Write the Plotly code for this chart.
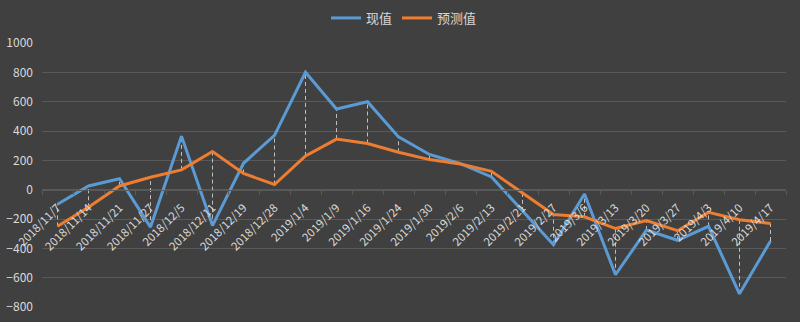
import plotly.graph_objects as go

# Weekly observation dates
dates = [
    "2018/11/7", "2018/11/14", "2018/11/21", "2018/11/27", "2018/12/5", "2018/12/11",
    "2018/12/19", "2018/12/28", "2019/1/4", "2019/1/9", "2019/1/16", "2019/1/24",
    "2019/1/30", "2019/2/6", "2019/2/13", "2019/2/21", "2019/2/27", "2019/3/6",
    "2019/3/13", "2019/3/20", "2019/3/27", "2019/4/3", "2019/4/10", "2019/4/17",
]

# Actual values (现值)
actual = [
    -100, 25, 75, -255, 365, -245,
    180, 370, 800, 550, 600, 360,
    240, 177, 87, -145, -375, -30,
    -580, -275, -345, -250, -710, -350,
]

# Forecast values (预测值)
forecast = [
    -250, -120, 25, 85, 135, 260,
    110, 35, 230, 345, 315, 255,
    205, 175, 125, -20, -170, -185,
    -265, -210, -280, -155, -205, -230,
]

y_ticks = list(range(-800, 1001, 200))

BG = "#404040"
GRID = "#595959"
TEXT = "#d9d9d9"
BLUE = "#5b9bd5"
ORANGE = "#ed7d31"

# High-low connector segments between the two series at each date
hl_x, hl_y = [], []
for d, a, f in zip(dates, actual, forecast):
    hl_x += [d, d, None]
    hl_y += [min(a, f), max(a, f), None]

fig = go.Figure()
fig.add_trace(go.Scatter(
    x=hl_x, y=hl_y, mode="lines",
    line=dict(color="#bfbfbf", width=1, dash="4px,3px"),
    hoverinfo="skip", showlegend=False,
))
fig.add_trace(go.Scatter(
    x=dates, y=actual, mode="lines", name="现值",
    line=dict(color=BLUE, width=3),
))
fig.add_trace(go.Scatter(
    x=dates, y=forecast, mode="lines", name="预测值",
    line=dict(color=ORANGE, width=3),
))

y_min, y_max = -800, 1000
zero_pos = (0 - y_min) / (y_max - y_min)

fig.update_layout(
    width=800, height=322,
    margin=dict(l=42, r=14, t=43, b=15, autoexpand=False),
    paper_bgcolor=BG, plot_bgcolor=BG,
    font=dict(family="Noto Sans CJK SC, sans-serif", color=TEXT, size=12),
    legend=dict(
        orientation="h", xref="container", yref="container",
        x=0.505, xanchor="center", y=1 - 18 / 322, yanchor="middle",
        font=dict(size=13, color=TEXT), bgcolor="rgba(0,0,0,0)",
        itemwidth=30, tracegroupgap=0,
    ),
    xaxis=dict(
        type="category", categoryorder="array", categoryarray=dates,
        tickson="boundaries", ticks="outside", ticklen=4, tickcolor=GRID,
        showgrid=False, showline=True, linecolor=GRID, linewidth=1,
        anchor="free", position=zero_pos, automargin=False,
        tickangle=-45, tickfont=dict(size=11.5, color=TEXT),
        ticklabelstandoff=6,
        range=[-0.5, len(dates) - 0.5],
    ),
    yaxis=dict(
        range=[y_min, y_max], tickvals=y_ticks, automargin=False,
        showgrid=True, gridcolor=GRID, gridwidth=1,
        zeroline=False, showline=False, ticks="",
        tickfont=dict(size=12, color=TEXT), ticklabelstandoff=8,
    ),
)

fig.write_html("out.html")
